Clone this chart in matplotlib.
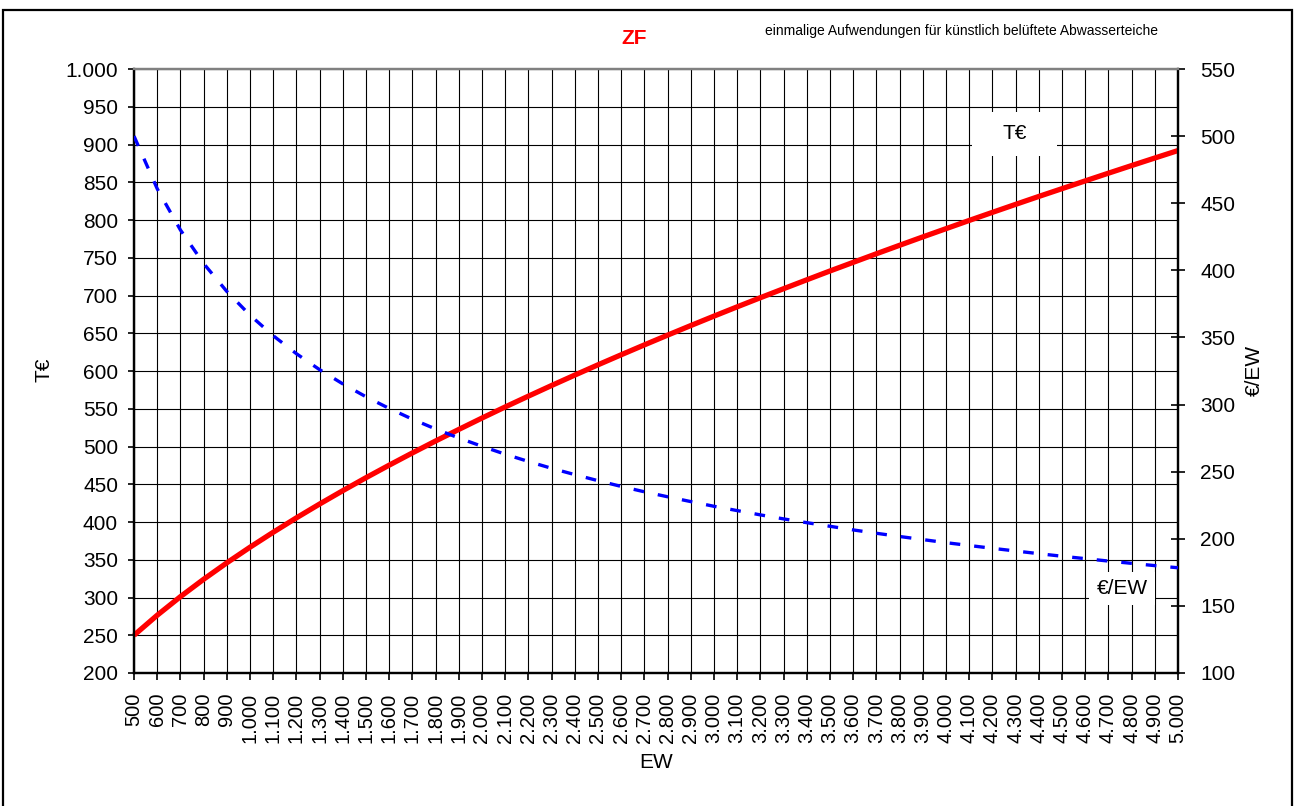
import matplotlib
matplotlib.use("Agg")
import matplotlib.pyplot as plt
from matplotlib.patches import Rectangle
from matplotlib.ticker import FixedLocator, FuncFormatter

plt.rcParams["font.family"] = ["Liberation Sans", "DejaVu Sans"]

# Einwohnerwerte (EW)
ew = list(range(500, 5001, 100))

# Investitionskosten in T€
kosten_teur = [
    250.0, 276.5, 301.1, 324.1, 345.9, 366.6, 386.4, 405.5, 423.8, 441.5,
    458.7, 475.3, 491.5, 507.3, 522.6, 537.7, 552.4, 566.7, 580.8, 594.6,
    608.2, 621.5, 634.6, 647.5, 660.2, 672.7, 685.0, 697.1, 709.0, 720.8,
    732.5, 743.9, 755.3, 766.5, 777.6, 788.5, 799.4, 810.1, 820.7, 831.2,
    841.5, 851.8, 862.0, 872.1, 882.1, 892.0,
]

# spezifische Kosten in €/EW
kosten_spez = [
    500.0, 460.8, 430.1, 405.1, 384.3, 366.6, 351.3, 337.9, 326.0, 315.4,
    305.8, 297.1, 289.1, 281.8, 275.1, 268.9, 263.0, 257.6, 252.5, 247.8,
    243.3, 239.0, 235.0, 231.3, 227.7, 224.2, 221.0, 217.8, 214.8, 212.0,
    209.3, 206.6, 204.1, 201.7, 199.4, 197.1, 195.0, 192.9, 190.9, 188.9,
    187.0, 185.2, 183.4, 181.7, 180.0, 178.4,
]

left_ticks = list(range(200, 1001, 50))
right_ticks = list(range(100, 551, 50))


def de_format(v, _pos=None):
    return f"{int(v):,}".replace(",", ".")


W, H = 1297, 806
fig = plt.figure(figsize=(W / 100, H / 100), dpi=100)

# outer frame of the chart object
fig.add_artist(Rectangle((3 / W, -0.05), 1289 / W, 1.05 - 10 / H,
                         transform=fig.transFigure, fill=False,
                         edgecolor="black", linewidth=1.6))

ax = fig.add_axes([134 / W, 1 - 673 / H, 1044 / W, 604 / H])
ax2 = ax.twinx()

ax.set_xlim(500, 5000)
ax.set_ylim(200, 1000)
ax2.set_ylim(100, 550)

ax.xaxis.set_major_locator(FixedLocator(ew))
ax.xaxis.set_major_formatter(FuncFormatter(de_format))
ax.yaxis.set_major_locator(FixedLocator(left_ticks))
ax.yaxis.set_major_formatter(FuncFormatter(de_format))
ax2.yaxis.set_major_locator(FixedLocator(right_ticks))
ax2.yaxis.set_major_formatter(FuncFormatter(de_format))

ax.grid(True, which="major", color="black", linewidth=0.8)
ax.set_axisbelow(True)

ax.tick_params(axis="x", direction="out", length=5, width=1.2,
               labelsize=14.5, labelrotation=90, pad=9)
ax.tick_params(axis="y", direction="out", length=4.5, width=1.2,
               labelsize=15, pad=7)
ax2.tick_params(axis="y", direction="inout", length=10, width=1.2,
                labelsize=15, pad=11)

for a in (ax, ax2):
    for side in ("left", "right", "bottom"):
        a.spines[side].set_color("black")
        a.spines[side].set_linewidth(1.6)
    a.spines["top"].set_color("#808080")
    a.spines["top"].set_linewidth(1.6)

# Kostenkurve T€ (linke Achse)
ax.plot(ew, kosten_teur, color="#ff0000", linewidth=3.8,
        solid_capstyle="butt", zorder=3, clip_on=False)

# spezifische Kosten €/EW (rechte Achse)
ax2.plot(ew, kosten_spez, color="#0000ff", linewidth=2.4,
         linestyle=(0, (3.2, 4.2)), dash_capstyle="butt", zorder=3)

# Beschriftungsfelder der Kurven
ax.add_patch(Rectangle((4112, 885), 366, 58, facecolor="white",
                       edgecolor="none", zorder=2))
ax.text(4297, 915, "T€", ha="center", va="center", fontsize=15, zorder=4)
ax.add_patch(Rectangle((4616, 290), 285, 44, facecolor="white",
                       edgecolor="none", zorder=2))
ax.text(4759, 312, "€/EW", ha="center", va="center", fontsize=15, zorder=4)

# Achsentitel
fig.text(43.5 / W, 1 - 370 / H, "T€", rotation=90, ha="center",
         va="center", fontsize=15)
fig.text(1254 / W, 1 - 370 / H, "€/EW", rotation=90, ha="center",
         va="center", fontsize=15)
fig.text(656 / W, 1 - 763 / H, "EW", ha="center", va="center", fontsize=15)

# Titel und Untertitel
fig.text(634 / W, 1 - 39 / H, "ZF", color="#ff0000", fontweight="bold",
         ha="center", va="center", fontsize=15)
fig.text(1158 / W, 1 - 31 / H,
         "einmalige Aufwendungen für künstlich belüftete Abwasserteiche",
         ha="right", va="center", fontsize=10)

fig.savefig("out.png", dpi=100)
